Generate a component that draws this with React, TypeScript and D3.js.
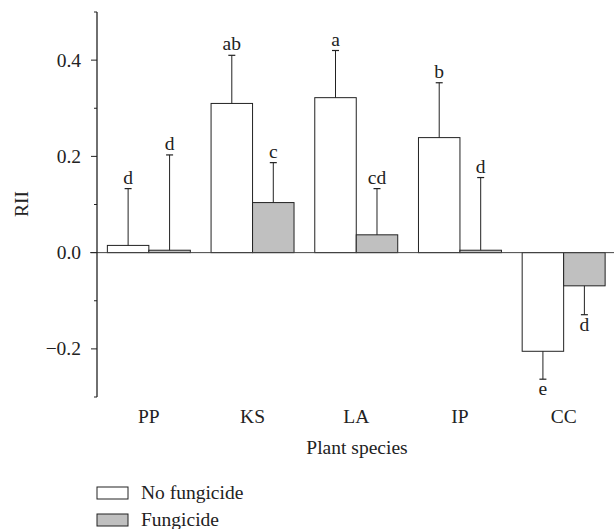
import React from "react";
import * as d3 from "d3";

const categories = ["PP", "KS", "LA", "IP", "CC"];
const seriesNames = ["No fungicide", "Fungicide"];
const noFungicide = [0.015, 0.31, 0.322, 0.239, -0.205];
const fungicide = [0.005, 0.104, 0.037, 0.005, -0.069];
const noFungicideErr = [0.118, 0.1, 0.098, 0.114, 0.058];
const fungicideErr = [0.198, 0.083, 0.096, 0.151, 0.06];
const noFungicideLetters = ["d", "ab", "a", "b", "e"];
const fungicideLetters = ["d", "c", "cd", "d", "d"];
const majorTicks = [0.4, 0.2, 0.0, -0.2];
const minorTicks = [0.5, 0.3, 0.1, -0.1, -0.3];

const W = 614;
const H = 529;
const FONT = "Liberation Serif, Times New Roman, serif";
const FS = 19.5;
const colors = ["#ffffff", "#c0c0c0"];

export default function App() {
  const axisX = 97;
  const x = d3.scaleBand<string>().domain(categories).range([97, 615.5]).paddingInner(0.2).paddingOuter(0.1);
  const inner = d3.scaleBand<string>().domain(seriesNames).range([0, x.bandwidth()]);
  const y = d3.scaleLinear().domain([-0.3, 0.5]).range([397, 12]);
  const values = [noFungicide, fungicide];
  const errs = [noFungicideErr, fungicideErr];
  const letters = [noFungicideLetters, fungicideLetters];
  const fmt = (v: number) => (v < 0 ? "\u2212" + Math.abs(v).toFixed(1) : v.toFixed(1));
  const ts = { fontFamily: FONT, fontSize: FS, fill: "#222" } as React.CSSProperties;

  return (
    <svg width={W} height={H} style={{ position: "absolute", left: 0, top: 0, background: "#fff", fontFamily: FONT }}>
      {seriesNames.map((s, si) =>
        categories.map((c, ci) => {
          const v = values[si][ci];
          const e = errs[si][ci];
          const bx = (x(c) as number) + (inner(s) as number);
          const bw = inner.bandwidth();
          const cx = bx + bw / 2;
          const top = y(Math.max(0, v));
          const bot = y(Math.min(0, v));
          const ev = v >= 0 ? v + e : v - e;
          const ey = y(ev);
          const ly = v >= 0 ? ey - 5 : ey + 16;
          return (
            <g key={s + c}>
              <rect x={bx} y={top} width={bw} height={Math.max(bot - top, 0.5)} fill={colors[si]} stroke="#222" strokeWidth={1} />
              <line x1={cx} x2={cx} y1={v >= 0 ? top : bot} y2={ey} stroke="#222" strokeWidth={1} />
              <line x1={cx - 3.5} x2={cx + 3.5} y1={ey} y2={ey} stroke="#222" strokeWidth={1.2} />
              <text x={cx} y={ly} textAnchor="middle" style={ts}>{letters[si][ci]}</text>
            </g>
          );
        })
      )}
      <line x1={axisX - 7} x2={614} y1={y(0)} y2={y(0)} stroke="#444" strokeWidth={1} />
      <line x1={axisX} x2={axisX} y1={y(0.5)} y2={y(-0.3)} stroke="#222" strokeWidth={1.3} />
      {majorTicks.map((t) => (
        <g key={"M" + t}>
          <line x1={axisX - 6} x2={axisX} y1={y(t)} y2={y(t)} stroke="#222" strokeWidth={1} />
          <text x={axisX - 16} y={y(t)} dy="0.33em" textAnchor="end" style={ts}>{fmt(t)}</text>
        </g>
      ))}
      {minorTicks.map((t) => (
        <line key={"m" + t} x1={axisX - 3} x2={axisX} y1={y(t)} y2={y(t)} stroke="#222" strokeWidth={1} />
      ))}
      {categories.map((c) => (
        <text key={"c" + c} x={(x(c) as number) + x.bandwidth() / 2} y={423} textAnchor="middle" style={ts}>{c}</text>
      ))}
      <text x={357} y={454} textAnchor="middle" style={ts}>Plant species</text>
      <text transform={`translate(28,204) rotate(-90)`} textAnchor="middle" style={ts}>RII</text>
      {seriesNames.map((s, si) => (
        <g key={"l" + s}>
          <rect x={97} y={487 + si * 27} width={31} height={12} fill={colors[si]} stroke="#222" strokeWidth={1} />
          <text x={141} y={499 + si * 27} style={ts}>{s}</text>
        </g>
      ))}
    </svg>
  );
}
